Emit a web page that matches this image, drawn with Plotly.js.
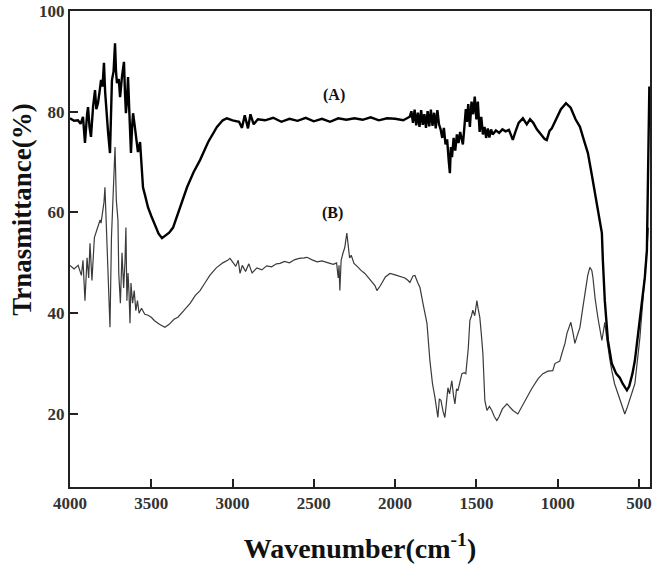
<!DOCTYPE html>
<html><head><meta charset="utf-8">
<script src="https://cdn.plot.ly/plotly-3.0.1.min.js"></script>
<style>body{margin:0;background:#fff}#chart{width:664px;height:571px}</style>
</head><body><div id="chart"></div>
<script>
// Series A (thick)
var waveA = [4000,3975,3951,3935,3920,3908,3895,3889,3880,3871,3858,3846,3838,3828,3818,3809,3800,3791,3784,3778,3766,3754,3748,3742,3732,3723,3717,3711,3700,3692,3680,3668,3662,3656,3650,3643,3635,3625,3618,3612,3603,3594,3582,3569,3560,3551,3539,3520,3500,3477,3455,3434,3415,3390,3366,3323,3280,3240,3200,3150,3096,3060,3035,3000,2960,2942,2925,2905,2890,2870,2844,2800,2750,2700,2650,2600,2550,2500,2450,2400,2350,2300,2250,2200,2150,2100,2050,2000,1950,1910,1900,1890,1880,1870,1860,1850,1840,1830,1820,1810,1800,1790,1780,1770,1760,1750,1740,1730,1720,1710,1700,1690,1680,1670,1663,1657,1650,1640,1630,1620,1610,1600,1590,1583,1575,1565,1558,1550,1540,1530,1520,1510,1500,1491,1480,1470,1460,1450,1440,1430,1420,1410,1400,1380,1360,1340,1320,1300,1290,1276,1260,1240,1214,1190,1170,1150,1128,1100,1080,1067,1050,1036,1010,980,949,920,890,863,840,814,790,771,750,728,722,710,691,667,640,618,600,574,560,540,525,494,464,451,445,440,436];
var transA = [78.7,78.2,78.3,77.6,79.0,73.8,79.5,80.9,77.0,75.0,81.0,84.3,80.5,81.7,84.0,86.3,85.0,89.7,84.0,80.9,76.0,71.8,79.0,86.3,88.0,93.6,88.0,85.7,86.5,82.9,87.0,89.9,84.0,79.7,82.0,86.9,80.0,71.8,77.0,79.7,77.5,75.0,72.0,74.0,70.0,65.0,63.5,61.0,59.3,57.5,55.8,54.9,55.3,56.0,57.0,61.0,65.0,68.0,70.4,74.0,77.0,78.3,78.7,78.3,78.0,76.8,79.3,76.7,79.5,77.5,78.5,78.3,78.8,78.0,78.6,78.2,78.8,78.1,78.6,78.0,78.7,78.4,78.7,78.4,78.9,78.3,78.7,78.6,78.3,79.0,80.1,77.8,80.4,77.3,79.8,77.0,80.3,77.4,79.5,76.8,80.1,77.1,80.4,77.2,79.8,76.7,80.3,77.5,76.5,74.8,76.8,73.5,74.5,70.2,67.8,73.0,71.0,74.8,72.3,75.5,73.8,76.0,74.3,73.5,76.5,80.5,78.0,81.5,77.0,82.0,79.5,83.0,78.5,82.0,76.0,79.0,75.5,77.0,74.8,76.7,74.9,76.5,75.5,76.3,75.8,76.5,76.1,76.4,75.6,74.4,76.0,77.8,78.7,77.5,78.5,77.8,76.5,75.5,74.6,74.4,76.2,76.7,78.5,80.5,81.7,80.8,78.5,77.0,74.5,71.8,67.5,63.8,59.5,55.9,50.5,42.5,34.6,30.0,28.0,27.2,26.0,24.7,25.5,28.0,30.6,39.2,47.0,52.5,65.0,80.0,85.0];

// Series B (thin)
var waveB = [4000,3975,3950,3930,3920,3908,3895,3885,3877,3870,3865,3850,3840,3828,3815,3809,3800,3791,3785,3778,3770,3760,3754,3745,3735,3723,3715,3705,3700,3690,3680,3670,3662,3656,3650,3643,3637,3631,3625,3615,3605,3595,3585,3575,3560,3540,3520,3500,3480,3450,3416,3390,3360,3336,3300,3260,3230,3200,3170,3140,3100,3060,3030,3016,3000,2980,2965,2954,2940,2920,2900,2880,2850,2820,2790,2760,2730,2708,2680,2650,2620,2590,2560,2542,2510,2480,2450,2420,2401,2380,2360,2350,2345,2340,2332,2320,2310,2297,2290,2280,2270,2253,2230,2210,2186,2150,2124,2112,2090,2060,2032,2000,1970,1940,1920,1909,1890,1878,1860,1847,1829,1815,1804,1786,1770,1755,1745,1737,1728,1718,1705,1694,1685,1675,1665,1651,1640,1632,1622,1614,1600,1589,1575,1565,1550,1540,1530,1522,1510,1497,1490,1479,1470,1460,1448,1435,1420,1405,1390,1374,1360,1340,1312,1295,1275,1245,1220,1189,1160,1120,1091,1060,1030,1017,987,974,955,943,919,905,894,880,863,848,833,815,802,790,783,770,753,740,728,718,710,700,691,680,667,650,630,610,600,587,570,556,540,525,510,494,476,458,448,442];
var transB = [49.5,48.8,49.5,47.5,50.5,42.5,51.0,47.0,53.9,48.0,46.5,55.0,56.0,57.5,58.5,57.9,60.0,62.0,65.0,58.0,52.0,43.0,37.2,55.0,65.0,73.0,62.4,58.5,47.9,42.0,52.0,45.0,50.0,57.0,42.5,48.0,44.0,38.0,46.0,42.0,44.5,40.5,42.5,40.0,41.0,39.8,39.6,39.2,38.5,37.8,37.2,37.8,38.8,39.2,40.5,42.0,43.5,44.5,46.0,47.5,49.0,50.0,50.5,50.9,50.2,49.3,50.5,47.9,49.5,48.3,49.8,48.0,49.0,48.6,49.4,49.2,49.8,49.9,50.3,50.0,50.6,50.9,51.0,51.1,50.6,50.2,50.4,50.0,49.9,49.7,50.0,47.0,49.5,44.5,50.5,52.0,53.0,55.9,54.0,51.0,51.5,49.9,49.2,48.5,47.9,46.5,45.5,44.5,45.5,47.2,47.9,47.6,47.3,47.0,46.5,46.1,47.4,47.5,46.0,45.1,42.0,40.0,38.0,30.6,26.0,23.3,21.5,19.3,23.0,22.7,20.5,19.3,22.0,25.2,24.0,26.6,23.5,22.0,25.0,24.6,26.5,28.0,28.2,28.0,33.0,38.6,39.5,40.6,39.5,42.5,41.0,39.2,36.0,32.0,22.7,20.7,21.5,20.7,19.5,18.7,19.5,21.0,22.0,21.3,20.7,20.0,21.5,23.3,25.0,27.0,28.0,28.5,28.6,30.0,30.5,32.0,34.0,36.0,38.2,36.0,34.0,35.5,37.2,40.5,43.9,47.5,49.1,48.5,47.1,43.0,39.2,36.5,34.6,36.5,38.2,35.5,33.2,31.0,28.6,26.0,24.1,22.0,21.0,20.0,21.5,22.7,24.5,26.0,30.0,35.2,42.5,49.1,54.0,57.0];

var labels = ['(A)','(B)'];
var labelX = [2376, 2383];
var labelY = [83.3, 59.8];

var serif = 'Liberation Serif, Times New Roman, serif';
var traces = [
  {x: waveB, y: transB, mode: 'lines', line: {color: '#3a3a3a', width: 1.2}, hoverinfo: 'skip'},
  {x: waveA, y: transA, mode: 'lines', line: {color: '#000', width: 2.4}, hoverinfo: 'skip'}
];
var ann = labels.map(function(t, i){
  return {x: labelX[i], y: labelY[i], text: t, showarrow: false,
    font: {family: serif, size: 16, color: '#111', weight: 'bold'}};
});
// y-axis title, placed like the reference (shifted above the plot centre)
ann.push({xref: 'paper', yref: 'paper', x: -0.083, y: 0.582, xanchor: 'center', yanchor: 'middle',
  textangle: -90, text: 'Trnasmittance(%)', showarrow: false,
  font: {family: serif, size: 27, color: '#111', weight: 'bold'}});

var layout = {
  width: 664, height: 571,
  margin: {l: 70, r: 14, t: 11, b: 84},
  paper_bgcolor: '#fff', plot_bgcolor: '#fff',
  showlegend: false,
  xaxis: {
    range: [4000, 432], tickvals: [4000,3500,3000,2500,2000,1500,1000,500],
    ticks: 'inside', ticklen: 8, tickwidth: 2, tickcolor: '#222',
    showline: true, mirror: true, linecolor: '#222', linewidth: 2,
    showgrid: false, zeroline: false,
    tickfont: {family: serif, size: 17, color: '#333', weight: 'bold'},
    title: {text: 'Wavenumber(cm<sup>-1</sup>)', font: {family: serif, size: 28, color: '#111', weight: 'bold'}, standoff: 26}
  },
  yaxis: {
    range: [5.5, 100], tickvals: [20,40,60,80,100],
    ticks: 'inside', ticklen: 8, tickwidth: 2, tickcolor: '#222',
    showline: true, mirror: true, linecolor: '#222', linewidth: 2,
    showgrid: false, zeroline: false,
    tickfont: {family: serif, size: 17, color: '#333', weight: 'bold'}
  },
  annotations: ann
};
Plotly.newPlot('chart', traces, layout, {displayModeBar: false, staticPlot: true});
</script></body></html>
